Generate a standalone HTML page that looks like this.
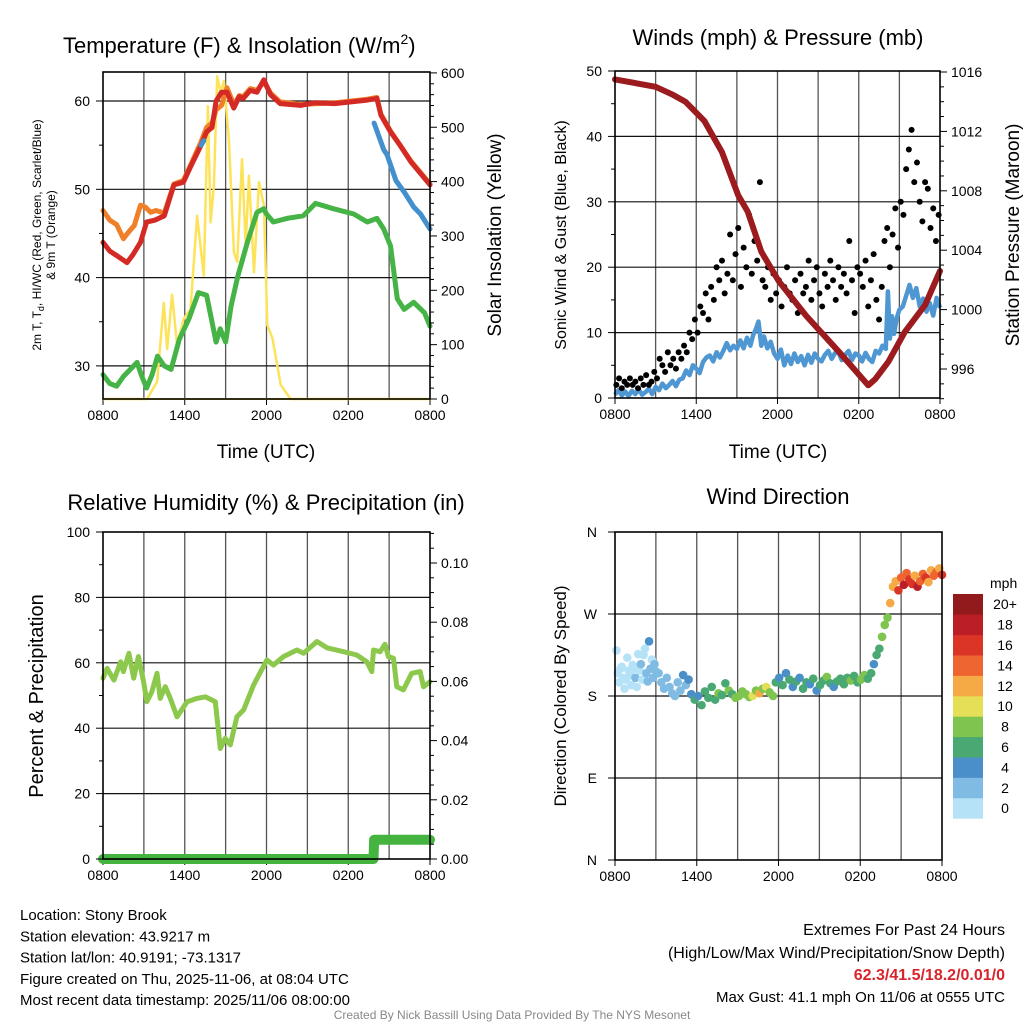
<!DOCTYPE html>
<html><head><meta charset="utf-8">
<style>
html,body{margin:0;padding:0;background:#fff;}
svg{display:block;font-family:"Liberation Sans",Arial,sans-serif;}
</style></head>
<body>
<svg id="chart" width="1024" height="1024" viewBox="0 0 1024 1024" xmlns="http://www.w3.org/2000/svg"></svg>
<script>
// ---------- Data ----------
const tempRedHours = [0,0.5,1,1.76,2.2,2.75,3.2,3.8,4.5,5.2,5.9,6.5,7.2,7.6,8.0,8.3,8.7,9.1,9.6,10.0,10.3,10.8,11.3,11.8,12.3,13,14.5,15.5,17,18.2,19.4,20.1,20.4,21.1,21.8,22.6,23.3,24];
const tempRedVals  = [44,43,42.5,41.7,42.6,44,46.3,46.5,47,50.5,50.8,52.8,55,56.5,57,60,61,61,59.2,60.5,60.3,61.2,61,62.4,60.7,59.7,59.5,59.8,59.7,59.9,60.1,60.3,58.4,56.5,55,53.1,51.8,50.5];
const tempOrangeHours = [0,0.5,1,1.5,1.9,2.3,2.75,3.1,3.5,3.9,4.5,5.2,5.9,6.5,7.2,7.6,8.0,8.3,8.7,9.1,9.6,10.0,10.3,10.8,11.3,11.8,12.3,13,14.5,17,19.4,20.1,20.4,21.1,22.6,24];
const tempOrangeVals  = [47.6,46.5,46,44.4,45.2,45.9,48.2,48,47.4,47.6,47.3,50.6,51,53,55.4,57,57.5,59,59.5,61.5,59.6,60.6,60.5,61.4,61.2,62.2,60.9,59.9,59.6,59.8,60.2,60.4,58.5,56.6,53.2,50.6];
const wcHours = [7.2,7.4, null, 19.9,20.6,20.85,21.5,22.1,22.8,23.3,24];
const wcVals  = [55,55.5, null, 57.5,54.5,53.9,51,49.7,48,47.2,45.5];
const dewHours = [0,0.5,1,1.5,2,2.5,2.8,3.2,3.6,4.0,4.5,5.0,5.6,6.3,7.0,7.6,8.3,8.6,9.0,9.4,9.9,10.6,11.3,11.8,12.0,12.5,13.5,14.7,15.6,16.9,18.4,19.4,20.1,20.6,21.1,21.6,22.1,22.8,23.6,24];
const dewVals  = [29,28,27.7,28.8,29.6,30.4,29,27.5,29,31.1,30,29.6,33,35.3,38.3,38,32.7,34.2,32.7,36.8,40.2,44,47.4,47.8,47.2,46.3,46.7,47,48.4,47.8,47.2,46.3,46.7,45.5,43.6,37.6,36.4,37.2,36,34.5];
const solarHours = [0,3.24,3.97,4.46,4.71,5.07,5.44,5.93,6.42,6.91,7.4,7.7,7.9,8.14,8.38,8.63,8.87,9.24,9.61,9.85,10.2,10.47,10.71,11.08,11.45,11.81,12.06,12.43,13.04,13.77,24];
const solarVals  = [0,0,32,177,92,192,99,148,165,337,227,539,325,392,594,564,585,478,270,252,441,282,411,233,399,356,136,112,26,0,0];
const windHours = [0,0.25,0.5,0.75,1,1.25,1.5,1.75,2,2.25,2.5,2.75,3,3.25,3.5,3.75,4,4.25,4.5,4.75,5,5.25,5.5,5.75,6,6.25,6.5,6.75,7,7.25,7.5,7.75,8,8.25,8.5,8.75,9,9.25,9.5,9.75,10,10.2,10.4,10.6,10.8,11,11.25,11.5,11.75,12,12.25,12.5,12.75,13,13.25,13.5,13.75,14,14.25,14.5,14.75,15,15.25,15.5,15.75,16,16.25,16.5,16.75,17,17.25,17.5,17.75,18,18.25,18.5,18.75,19,19.25,19.5,19.75,20,20.15,20.3,20.45,20.6,20.8,21,21.25,21.5,21.75,22,22.25,22.5,22.75,23,23.25,23.5,23.75,24];
const windVals  = [0.5,1.2,0.4,1,0.3,1.1,0.6,1.3,0.5,0.9,1.4,0.6,1.7,1.2,2.2,1.5,2,2.6,1.8,2.8,3,4.2,3.5,5,4.5,3.8,5.5,6.2,6.5,5.6,7,6.2,7.2,8.4,7.3,8,7.5,8.8,7.6,9.2,8,9.6,10.5,11.7,8,9.4,7.6,8.6,6.8,6,7.4,5,6.5,5.2,6.8,5.5,6.4,5,6.6,5.4,6.8,6,5.6,6.6,7.2,6,6.9,7,5.8,6.6,7.2,5.8,6.8,6.5,5.6,6.9,6,5.5,7.2,6.8,8,7.5,16.3,9.1,12.5,9.8,12.2,13.5,14,15.6,17.3,15.3,16.8,14,15.2,13.2,14.5,12.6,15.3,13.8,15.3];
const gustVals = [2,3,1.5,2.5,2, 3,2,2.5,1.5,3, 2,3.5,2,2.5,4, 3,6,5,4,7, 5,6,4.5,7,6, 8,7,10,9,12, 10,14,13,16,12, 17,15,20,18,21, 16,19,25,18,22, 26,17,23,20,28, 19,24,21,33,18, 17,20,15,19,16, 18,14,17,20,16, 15,18,13,19,16, 17,21,15,18,20, 16,14,19,17,21, 18,15,20,17,19, 16,24,18,13,20, 19,17,21,14,18, 22,15,12,17,24, 26,20,25,29,23, 30,28,35,38,41, 33,36,30,27,33, 32,26,29,24,28];
const presHours = [0,3,4.2,5.2,6.6,7.9,9.1,9.8,10.8,12.1,14.1,16.5,18.7,19.2,20.2,21.4,22.9,24];
const presVals  = [1015.5,1015,1014.5,1014,1012.7,1010.6,1007.7,1006.6,1003.9,1001.9,999.6,997.2,994.9,995.3,996.5,998.5,1000.3,1002.6];
const rhHours = [0,0.3,0.8,1.3,1.5,1.9,2.25,2.6,2.98,3.22,3.59,3.96,4.2,4.57,4.94,5.43,6.17,6.9,7.51,8.24,8.61,8.97,9.34,9.83,10.32,11.05,12.03,12.51,13.25,14.23,14.72,15.7,16.43,17.65,18.63,19.36,19.73,19.85,20.34,20.7,20.95,21.32,21.56,22.05,22.66,23.27,23.52,24];
const rhVals  = [55.3,58.3,54.7,60.3,57.3,62.9,55.3,61.9,54.2,48.1,51.2,56.8,49.1,52.7,49.1,43.5,48.1,49.1,49.6,48.1,33.8,36.9,34.9,43.5,45.6,53.2,60.9,59.3,61.9,63.9,62.9,66.5,64.6,63.4,62.4,60.3,57.3,63.9,63.4,65.7,61.9,61.4,52.7,51.7,56.8,57.3,52.7,54.2];
const precipHours = [0,19.85,19.9,24];
const precipVals  = [0,0,0.0065,0.0065];
const dirHours = [0.1,0.2,0.3,0.4,0.5,0.6,0.7,0.8,0.9,1.0,1.1,1.2,1.3,1.4,1.5,1.6,1.7,1.8,1.9,2.0,2.1,2.2,2.3,2.4,2.5,2.6,2.7,2.8,2.9,3.0,
 3.2,3.4,3.6,3.8,4.0,4.2,4.4,4.6,4.8,5.0,5.2,5.4,
 5.6,5.85,6.1,6.35,6.6,6.85,7.1,7.35,7.6,7.85,8.1,8.35,8.6,8.85,9.1,9.35,9.6,9.85,10.1,10.35,10.6,10.85,11.1,11.35,11.6,
 11.8,12.05,12.3,12.55,12.8,13.05,13.3,13.55,13.8,14.05,14.3,14.55,14.8,15.05,15.3,15.55,15.8,16.05,16.3,16.55,16.8,17.05,17.3,17.55,17.8,18.05,18.3,18.55,
 18.8,19.0,19.2,19.4,19.6,19.8,20.0,20.2,
 20.4,20.6,20.8,21.0,21.2,21.4,21.6,21.8,22.0,22.2,22.4,22.6,22.8,23.0,23.2,23.4,23.6,23.8,24.0];
const dirVals = [230,205,195,210,212,200,188,198,222,208,203,192,214,210,200,190,226,208,215,198,225,232,205,196,240,210,220,200,215,207,
 205,195,188,200,190,183,180,195,186,203,192,198,
 182,176,180,170,185,178,190,176,183,181,194,186,182,178,180,185,182,179,180,186,183,188,190,184,180,
 195,200,192,205,198,190,196,200,188,195,193,199,186,192,197,201,194,190,196,199,193,200,197,202,195,198,203,199,
 205,215,225,232,245,258,266,282,
 300,306,296,310,302,315,308,303,312,300,306,314,310,305,318,312,316,320,313];
const dirSpeeds = [1,0.5,1,1.5,0.8,1.2,0.5,1,1.8,1,1.5,0.7,1.2,1,2.5,1.3,1,1.6,2.5,1.1,1.5,1.9,3,2.2,4.5,2.5,1.3,2.8,2.6,3,
 3,2.5,3,3.5,2.5,3,2.8,3.5,2.2,4.5,3,5,
 5,6.5,5,6,7,6.5,7,6,8.5,7,6.5,8,7.5,9,8.5,8,9,8.5,10,9,12.5,9,10.5,8,9.5,
 7,5,6,4.5,7,5,6.5,4,6,7,5.5,6,4.5,7,6,8,6.5,5,7,6,7.5,6,8.5,7,6,8,9,7,
 7,5,7,6,8,9,9,12,
 13,12,17,15,19,14,17,16,13,18,15,14,16,12,13,15,14,12,17];
const timeTickLabels = ["0800","1400","2000","0200","0800"];
const speedBinLabels = ["0","2","4","6","8","10","12","14","16","18","20+"];
const speedBinColors = ["#b5e2f7","#80bbe4","#4a8fc8","#4aa873","#7ec44e","#e5df57","#f5aa45","#ef6530","#db3528","#bb1e25","#931a1c"];

// ---------- helpers ----------
const svg = document.getElementById('chart');
const NS = 'http://www.w3.org/2000/svg';
function mk(tag, attrs, parent){const e=document.createElementNS(NS,tag);for(const k in attrs)e.setAttribute(k,attrs[k]);(parent||svg).appendChild(e);return e;}
function txt(s, attrs){const e=mk('text',attrs);e.textContent=s;return e;}
function pathFrom(hours, vals, xs, ys){let d='',pen=false;for(let i=0;i<hours.length;i++){if(hours[i]===null){pen=false;continue;}d+=(pen?'L':'M')+xs(hours[i]).toFixed(1)+' '+ys(vals[i]).toFixed(1);pen=true;}return d;}

const panels = {
 p1:{x0:103,x1:430,y0:72,y1:399},
 p2:{x0:615,x1:940,y0:71,y1:398},
 p3:{x0:103,x1:430,y0:532,y1:859},
 p4:{x0:615,x1:942,y0:532,y1:860}
};
function tScale(p){return t=>p.x0+t*(p.x1-p.x0)/24;}

function frame(p, hGridYs, label){
 for(let i=1;i<8;i++){const x=p.x0+i*(p.x1-p.x0)/8;
  const g=mk('line',{x1:x,x2:x,y1:p.y0,y2:p.y1,stroke:'#555','stroke-width':1.3});
  
  }
 hGridYs.forEach(y=>{const g=mk('line',{x1:p.x0,x2:p.x1,y1:y,y2:y,stroke:'#111','stroke-width':1.2});
  
  });
 for(let i=0;i<=4;i++){const x=p.x0+i*(p.x1-p.x0)/4;
  const tk=mk('line',{x1:x,x2:x,y1:p.y1,y2:p.y1+6,stroke:'#000','stroke-width':1});
  
  
  const tl=txt(timeTickLabels[i],{x:x,y:p.y1+21,'font-size':14,'text-anchor':'middle'});
  
  }
}
function border(p,label){const b=mk('rect',{x:p.x0,y:p.y0,width:p.x1-p.x0,height:p.y1-p.y0,fill:'none',stroke:'#000','stroke-width':1.6});
 
 }
function yTicks(p, side, values, ys, fmt, major, label){
 values.forEach(v=>{const y=ys(v);const x=side==='l'?p.x0:p.x1;const len=major?7:4;
  const tk=mk('line',{x1:side==='l'?x-len:x,x2:side==='l'?x:x+len,y1:y,y2:y,stroke:'#000','stroke-width':1});
  
  
  if(major){const t=txt(fmt(v),{x:side==='l'?x-13:x+11,y:y+5,'font-size':14,'text-anchor':side==='l'?'end':'start'});
   
   }
 });
}
function rotText(s,x,y,size,name){const t=txt(s,{x:0,y:0,'font-size':size,'text-anchor':'middle',transform:`translate(${x},${y}) rotate(-90)`});
 
 return t;}

// ---------- Panel 1 ----------
{const p=panels.p1, xs=tScale(p);
 const yT=T=>101+(60-T)*8.83, yS=W=>399-W*0.5435;
 frame(p,[yT(60),yT(50),yT(40),yT(30)],'temp');
 const sol=mk('path',{d:pathFrom(solarHours,solarVals,xs,yS),fill:'none',stroke:'#fde35a','stroke-width':2.5,'stroke-linejoin':'round'});
 
 
 const dew=mk('path',{d:pathFrom(dewHours,dewVals,xs,yT),fill:'none',stroke:'#45b345','stroke-width':5,'stroke-linejoin':'round','stroke-linecap':'round'});
 
 
 const org=mk('path',{d:pathFrom(tempOrangeHours,tempOrangeVals,xs,yT),fill:'none',stroke:'#f07f2a','stroke-width':5,'stroke-linejoin':'round','stroke-linecap':'round'});
 
 
 const red=mk('path',{d:pathFrom(tempRedHours,tempRedVals,xs,yT),fill:'none',stroke:'#d42a25','stroke-width':5,'stroke-linejoin':'round','stroke-linecap':'round'});
 
 
 const wc=mk('path',{d:pathFrom(wcHours,wcVals,xs,yT),fill:'none',stroke:'#4390cd','stroke-width':5,'stroke-linejoin':'round','stroke-linecap':'round'});
 
 
 const ax=mk('line',{x1:p.x0,x2:p.x1,y1:p.y1,y2:p.y1,stroke:'#fde35a','stroke-width':2});
 
 
 border(p,'temp');
 const lv=[];for(let v=30;v<=60;v+=5)lv.push(v);
 lv.forEach(v=>yTicks(p,'l',[v],yT,v=>String(v),v%10===0,'temp-y'));
 for(let v=0;v<=600;v+=20)yTicks(p,'r',[v],yS,v=>String(v),v%100===0,'solar-y');
 const t=txt('Temperature (F) & Insolation (W/m',{x:63,y:53,'font-size':22});
 
 
 const ts=mk('tspan',{dy:-9,'font-size':14},t);ts.textContent='2';
 const ts2=mk('tspan',{dy:9,'font-size':22},t);ts2.textContent=')';
 const xl=txt('Time (UTC)',{x:266,y:458,'font-size':19,'text-anchor':'middle'});
 
 
 const l1=txt('',{x:0,y:0,'font-size':12,'text-anchor':'middle',transform:'translate(41,235) rotate(-90)'});
 
 
 l1.innerHTML='2m T, T<tspan font-size="9" dy="3">d</tspan><tspan dy="-3">, HI/WC (Red, Green, Scarlet/Blue)</tspan>';
 rotText('& 9m T (Orange)',55,235,12,'temp-y-axis-title-line2');
 rotText('Solar Insolation (Yellow)',501,235,19,'solar-y-axis-title');
}

// ---------- Panel 2 ----------
{const p=panels.p2, xs=tScale(p);
 const yW=w=>398-w*6.54, yP=P=>72+(1016-P)*14.85;
 frame(p,[yW(10),yW(20),yW(30),yW(40)],'wind');
 const wl=mk('path',{d:pathFrom(windHours,windVals,xs,yW),fill:'none',stroke:'#4f97d2','stroke-width':4.5,'stroke-linejoin':'round'});
 
 
 gustVals.forEach((g,i)=>{const c=mk('circle',{cx:xs(i*0.2+0.1),cy:yW(g),r:3,fill:'#000'});
  
  });
 const pl=mk('path',{d:pathFrom(presHours,presVals,xs,yP),fill:'none',stroke:'#9b1b1e','stroke-width':6,'stroke-linejoin':'round','stroke-linecap':'round'});
 
 
 border(p,'wind');
 for(let v=0;v<=50;v+=5)yTicks(p,'l',[v],yW,v=>String(v),v%10===0,'wind-y');
 for(let v=994;v<=1016;v+=1)yTicks(p,'r',[v],yP,v=>String(v),v%4===0,'pressure-y');
 const t=txt('Winds (mph) & Pressure (mb)',{x:778,y:45,'font-size':22,'text-anchor':'middle'});
 
 
 const xl=txt('Time (UTC)',{x:778,y:458,'font-size':19,'text-anchor':'middle'});
 
 
 rotText('Sonic Wind & Gust (Blue, Black)',566,235,16,'wind-y-axis-title');
 rotText('Station Pressure (Maroon)',1019,235,19,'pressure-y-axis-title');
}

// ---------- Panel 3 ----------
{const p=panels.p3, xs=tScale(p);
 const yR=r=>859-r*3.27, yPr=v=>859-v*2960;
 frame(p,[yR(20),yR(40),yR(60),yR(80)],'rh');
 const rl=mk('path',{d:pathFrom(rhHours,rhVals,xs,yR),fill:'none',stroke:'#8cc84b','stroke-width':5,'stroke-linejoin':'round','stroke-linecap':'round'});
 
 
 const pr=mk('path',{d:pathFrom(precipHours,precipVals,xs,yPr),fill:'none',stroke:'#44b33f','stroke-width':10,'stroke-linejoin':'round','stroke-linecap':'round'});
 
 
 border(p,'rh');
 for(let v=0;v<=100;v+=10)yTicks(p,'l',[v],yR,v=>String(v),v%20===0,'rh-y');
 for(let k=0;k<=22;k++){const v=k*0.005;yTicks(p,'r',[v],yPr,v=>v.toFixed(2),k%4===0&&k<=20,'precip-y');}
 const t=txt('Relative Humidity (%) & Precipitation (in)',{x:266,y:510,'font-size':22,'text-anchor':'middle'});
 
 
 rotText('Percent & Precipitation',43,696,20,'rh-y-axis-title');
}

// ---------- Panel 4 ----------
{const p=panels.p4, xs=tScale(p);
 const yD=d=>860-d*0.9111;
 frame(p,[yD(90),yD(180),yD(270)],'dir');
 function col(s){let b=Math.floor(s/2);if(b>10)b=10;return speedBinColors[b];}
 dirHours.forEach((h,i)=>{const c=mk('circle',{cx:xs(h),cy:yD(dirVals[i]),r:4.3,fill:col(dirSpeeds[i])});
  
  });
 border(p,'dir');
 const dl=['N','E','S','W','N'];
 [0,90,180,270,360].forEach((d,i)=>{const y=yD(d);
  const tk=mk('line',{x1:p.x0-7,x2:p.x0,y1:y,y2:y,stroke:'#000'});
  
  
  const t=txt(dl[i],{x:p.x0-18,y:y+5,'font-size':14,'text-anchor':'end'});
  
  });
 const t=txt('Wind Direction',{x:778,y:504,'font-size':22,'text-anchor':'middle'});
 
 
 rotText('Direction (Colored By Speed)',566,696,17,'dir-y-axis-title');
 const cb0=594, bh=20.4;
 speedBinColors.forEach((c,i)=>{const y=cb0+(10-i)*bh;
  const r=mk('rect',{x:953,y:y,width:30,height:bh+0.3,fill:c});
  
  
  const l=txt(speedBinLabels[i],{x:1005,y:y+bh/2+5,'font-size':14,'text-anchor':'middle'});
  
  });
 const u=txt('mph',{x:990,y:588,'font-size':14});
 
 
}

// ---------- Footer text ----------
const leftLines=['Location: Stony Brook','Station elevation: 43.9217 m','Station lat/lon: 40.9191; -73.1317','Figure created on Thu, 2025-11-06, at 08:04 UTC','Most recent data timestamp: 2025/11/06 08:00:00'];
leftLines.forEach((s,i)=>{const t=txt(s,{x:20,y:920+i*21.3,'font-size':15});
 
 });
const r1=txt('Extremes For Past 24 Hours',{x:1005,y:935,'font-size':16,'text-anchor':'end'});


const r2=txt('(High/Low/Max Wind/Precipitation/Snow Depth)',{x:1005,y:958,'font-size':16,'text-anchor':'end'});


const r3=txt('62.3/41.5/18.2/0.01/0',{x:1005,y:980,'font-size':16,'text-anchor':'end','font-weight':'bold',fill:'#d7262b'});


const r4=txt('Max Gust: 41.1 mph On 11/06 at 0555 UTC',{x:1005,y:1002,'font-size':15,'text-anchor':'end'});


const cr=txt('Created By Nick Bassill Using Data Provided By The NYS Mesonet',{x:512,y:1019,'font-size':12,'text-anchor':'middle',fill:'#888'});


</script>
</body></html>
